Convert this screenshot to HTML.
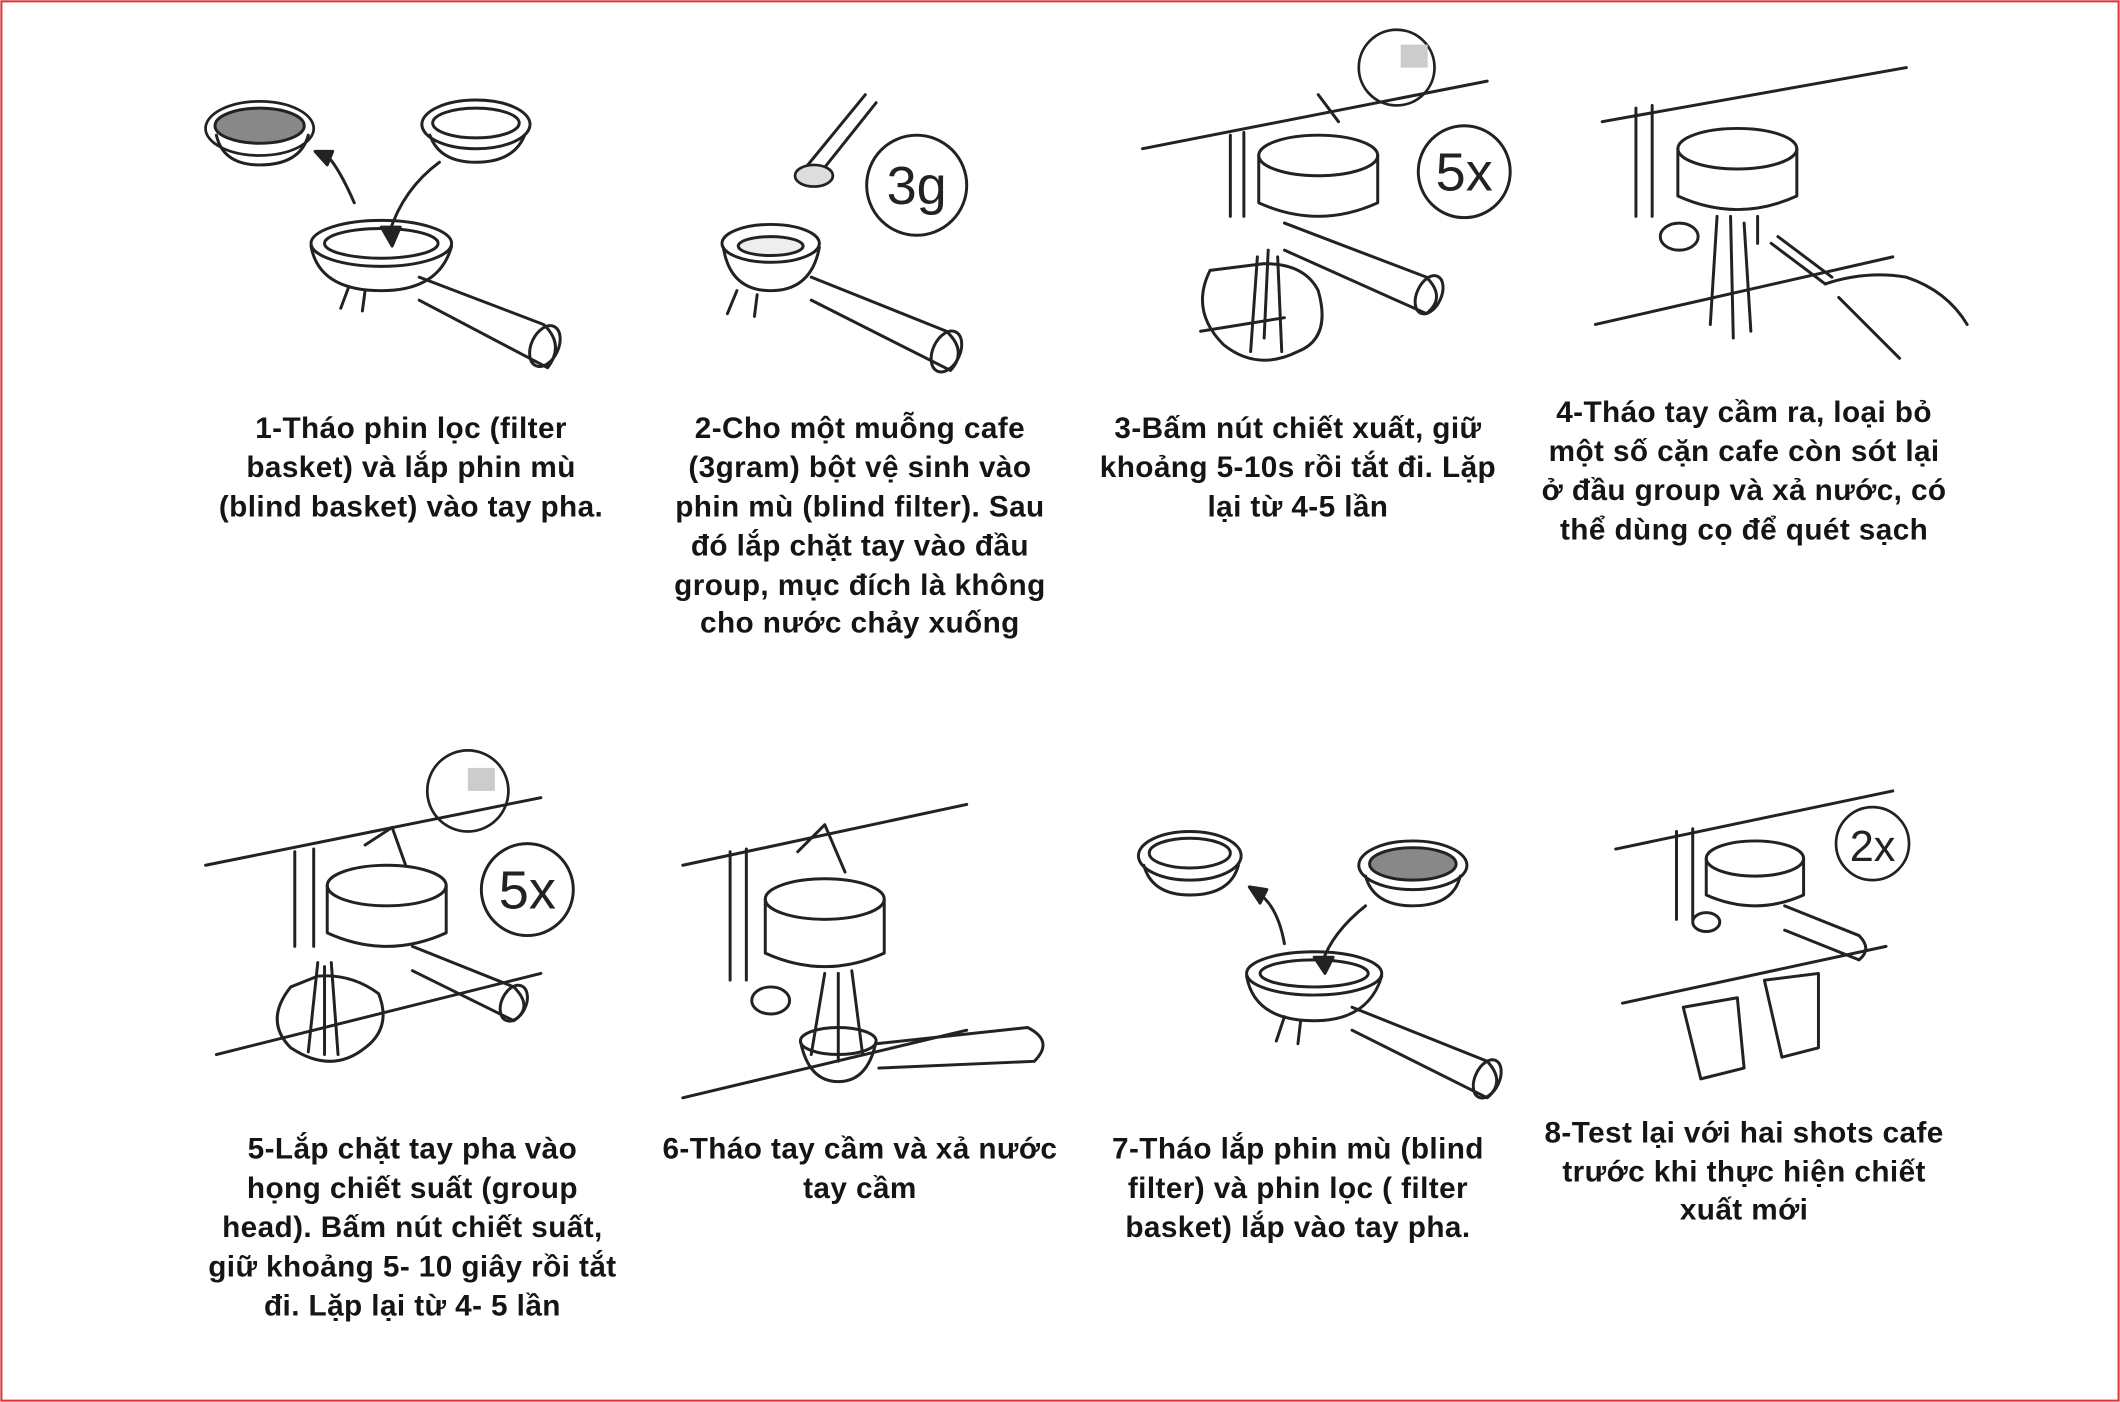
<!DOCTYPE html>
<html><head><meta charset="utf-8"><style>
html,body{margin:0;padding:0;background:#fff}
svg{display:block}
text{font-family:"Liberation Sans","DejaVu Sans",sans-serif;font-weight:bold;fill:#151515}
.c{font-size:22px;letter-spacing:0.3px;text-anchor:middle}
.l{fill:none;stroke:#222;stroke-width:2.2;stroke-linecap:round;stroke-linejoin:round}
.g{fill:#bbb;stroke:#222;stroke-width:2}
.n{font-family:"Liberation Sans",sans-serif;font-weight:normal;font-size:40px;text-anchor:middle;fill:#222}
</style></head><body>
<svg width="2120" height="1402" viewBox="0 0 1568 1037" xmlns="http://www.w3.org/2000/svg">
<rect x="1" y="1" width="1566" height="1035" fill="#fff" stroke="#d33" stroke-width="1.5"/>

<!-- Panel 1 -->
<g class="l">
<ellipse cx="192" cy="95" rx="40" ry="20" class="g" style="fill:#fff"/><ellipse cx="192" cy="93" rx="33" ry="13" fill="#888"/>
<path d="M160 100 Q165 122 192 122 Q222 122 228 100"/>
<ellipse cx="352" cy="92" rx="40" ry="18"/><ellipse cx="352" cy="91" rx="32" ry="11"/>
<path d="M318 100 Q325 120 352 120 Q380 120 388 100"/>
<ellipse cx="282" cy="180" rx="52" ry="17"/><ellipse cx="282" cy="180" rx="42" ry="11"/>
<path d="M230 182 Q236 215 282 215 Q325 215 334 182"/>
<path d="M258 212 L252 228 M270 215 L268 230"/>
<path d="M310 205 L402 240 Q418 255 405 272 L310 222"/>
<ellipse cx="403" cy="256" rx="10" ry="16" transform="rotate(25 403 256)"/>
<path d="M262 150 Q248 118 238 112" /><path d="M233 112 L242 122 L246 112 Z" fill="#222"/>
<path d="M325 120 Q298 140 288 172"/><path d="M282 168 L290 182 L296 168 Z" fill="#222"/>
</g>

<!-- Panel 2 -->
<g class="l">
<path d="M595 125 L640 70 M605 130 L648 76"/>
<ellipse cx="602" cy="130" rx="14" ry="8" class="g" style="fill:#ddd"/>
<ellipse cx="570" cy="180" rx="36" ry="14"/><ellipse cx="570" cy="182" rx="24" ry="7" fill="#eee"/>
<path d="M535 183 Q540 215 570 215 Q600 215 606 183"/>
<path d="M545 215 L538 232 M560 218 L558 234"/>
<path d="M600 205 L700 245 Q716 260 703 274 L600 222"/>
<ellipse cx="700" cy="260" rx="10" ry="16" transform="rotate(25 700 260)"/>
</g>
<circle cx="678" cy="137" r="37" fill="none" stroke="#222" stroke-width="2.2"/>
<text class="n" x="678" y="151">3g</text>

<!-- Panel 3 -->
<g class="l">
<path d="M845 110 L1100 60"/>
<path d="M910 100 L910 160 M920 98 L920 160 M975 70 L990 90"/>
<ellipse cx="975" cy="115" rx="44" ry="15"/><path d="M931 115 L931 150 Q975 170 1019 150 L1019 115"/>
<path d="M950 165 L1055 205 Q1070 220 1055 232 L950 185"/>
<ellipse cx="1057" cy="218" rx="9" ry="15" transform="rotate(25 1057 218)"/>
<path d="M895 200 Q880 230 905 255 Q930 275 960 260 Q985 250 975 215 Q965 195 935 195 Z"/>
<path d="M930 190 L925 260 M945 190 L948 260 M938 185 L935 250"/>
<path d="M888 245 L950 235"/>
</g>
<circle cx="1033" cy="50" r="28" fill="none" stroke="#222" stroke-width="2"/>
<path d="M1036 33 L1056 33 L1056 50 L1036 50 Z" fill="#ccc"/>
<circle cx="1083" cy="127" r="34" fill="none" stroke="#222" stroke-width="2.2"/>
<text class="n" x="1083" y="141">5x</text>

<!-- Panel 4 -->
<g class="l">
<path d="M1185 90 L1410 50 M1180 240 L1400 190"/>
<path d="M1210 80 L1210 160 M1222 78 L1222 160"/>
<ellipse cx="1285" cy="110" rx="44" ry="15"/><path d="M1241 110 L1241 145 Q1285 165 1329 145 L1329 110"/>
<ellipse cx="1242" cy="175" rx="14" ry="10"/>
<path d="M1300 160 L1300 180 M1310 180 L1350 210 M1315 175 L1355 205"/>
<path d="M1270 160 L1265 240 M1280 160 L1282 250 M1290 165 L1295 245"/>
<path d="M1350 210 Q1380 200 1410 205 Q1440 215 1455 240 M1360 220 Q1380 240 1405 265"/>
</g>

<!-- Panel 5 -->
<g class="l">
<path d="M152 640 L400 590 M160 780 L400 720"/>
<path d="M218 630 L218 700 M232 628 L232 700"/>
<ellipse cx="286" cy="655" rx="44" ry="15"/><path d="M242 655 L242 690 Q286 710 330 690 L330 655"/>
<path d="M270 625 L290 612 L300 640"/>
<path d="M305 700 L380 730 Q395 745 380 755 L305 718"/>
<ellipse cx="380" cy="742" rx="9" ry="14" transform="rotate(25 380 742)"/>
<path d="M215 730 Q195 755 215 775 Q245 795 270 775 Q290 760 280 735 Q260 720 235 722 Z"/>
<path d="M235 712 L228 778 M245 712 L250 780 M240 715 L240 780"/>
</g>
<circle cx="346" cy="585" r="30" fill="none" stroke="#222" stroke-width="2"/>
<rect x="346" y="568" width="20" height="17" fill="#ccc"/>
<circle cx="390" cy="658" r="34" fill="none" stroke="#222" stroke-width="2.2"/>
<text class="n" x="390" y="672">5x</text>

<!-- Panel 6 -->
<g class="l">
<path d="M505 640 L715 595 M505 812 L715 762"/>
<path d="M540 630 L540 725 M552 628 L552 725"/>
<ellipse cx="610" cy="665" rx="44" ry="15"/><path d="M566 665 L566 705 Q610 725 654 705 L654 665"/>
<path d="M590 630 L610 610 L625 645"/>
<ellipse cx="570" cy="740" rx="14" ry="10"/>
<ellipse cx="620" cy="770" rx="28" ry="10"/><path d="M592 770 Q598 800 620 800 Q642 800 648 770"/>
<path d="M648 772 L760 760 Q780 770 765 785 L650 790"/>
<path d="M610 720 L600 780 M620 720 L620 785 M630 718 L638 780"/>
</g>

<!-- Panel 7 -->
<g class="l">
<ellipse cx="880" cy="633" rx="38" ry="18"/><ellipse cx="880" cy="631" rx="30" ry="11"/>
<path d="M846 640 Q852 662 880 662 Q910 662 916 640"/>
<ellipse cx="1045" cy="640" rx="40" ry="18"/><ellipse cx="1045" cy="639" rx="32" ry="12" fill="#888"/>
<path d="M1010 648 Q1016 670 1045 670 Q1075 670 1080 648"/>
<ellipse cx="972" cy="720" rx="50" ry="16"/><ellipse cx="972" cy="720" rx="40" ry="10"/>
<path d="M922 722 Q928 755 972 755 Q1012 755 1022 722"/>
<path d="M950 752 L944 770 M962 755 L960 772"/>
<path d="M1000 745 L1100 785 Q1114 800 1100 812 L1000 762"/>
<ellipse cx="1100" cy="798" rx="9" ry="15" transform="rotate(25 1100 798)"/>
<path d="M950 698 Q945 670 930 660"/><path d="M924 656 L932 668 L937 658 Z" fill="#222"/>
<path d="M1010 670 Q985 690 978 712"/><path d="M972 708 L980 720 L986 708 Z" fill="#222"/>
</g>

<!-- Panel 8 -->
<g class="l">
<path d="M1195 628 L1400 585 M1200 742 L1395 700"/>
<path d="M1240 615 L1240 680 M1252 613 L1252 680"/>
<ellipse cx="1298" cy="635" rx="36" ry="13"/><path d="M1262 635 L1262 662 Q1298 678 1334 662 L1334 635"/>
<ellipse cx="1262" cy="682" rx="10" ry="7"/>
<path d="M1320 670 L1375 692 Q1385 702 1375 710 L1320 688"/>
<path d="M1245 745 L1285 738 L1290 790 L1258 798 Z"/>
<path d="M1305 725 L1345 720 L1345 775 L1318 782 Z"/>
</g>
<circle cx="1385" cy="624" r="27" fill="none" stroke="#222" stroke-width="2"/>
<text class="n" x="1385" y="637" style="font-size:32px">2x</text>

<!-- Captions -->
<text class="c" x="304" y="324">1-Tháo phin lọc (filter</text>
<text class="c" x="304" y="353">basket) và lắp phin mù</text>
<text class="c" x="304" y="382">(blind basket) vào tay pha.</text>

<text class="c" x="636" y="324">2-Cho một muỗng cafe</text>
<text class="c" x="636" y="353">(3gram) bột vệ sinh vào</text>
<text class="c" x="636" y="382">phin mù (blind filter). Sau</text>
<text class="c" x="636" y="411">đó lắp chặt tay vào đầu</text>
<text class="c" x="636" y="440">group, mục đích là không</text>
<text class="c" x="636" y="468">cho nước chảy xuống</text>

<text class="c" x="960" y="324">3-Bấm nút chiết xuất, giữ</text>
<text class="c" x="960" y="353">khoảng 5-10s rồi tắt đi. Lặp</text>
<text class="c" x="960" y="382">lại từ 4-5 lần</text>

<text class="c" x="1290" y="312">4-Tháo tay cầm ra, loại bỏ</text>
<text class="c" x="1290" y="341">một số cặn cafe còn sót lại</text>
<text class="c" x="1290" y="370">ở đầu group và xả nước, có</text>
<text class="c" x="1290" y="399">thể dùng cọ để quét sạch</text>

<text class="c" x="305" y="857">5-Lắp chặt tay pha vào</text>
<text class="c" x="305" y="886">họng chiết suất (group</text>
<text class="c" x="305" y="915">head). Bấm nút chiết suất,</text>
<text class="c" x="305" y="944">giữ khoảng 5- 10 giây rồi tắt</text>
<text class="c" x="305" y="973">đi. Lặp lại từ 4- 5 lần</text>

<text class="c" x="636" y="857">6-Tháo tay cầm và xả nước</text>
<text class="c" x="636" y="886">tay cầm</text>

<text class="c" x="960" y="857">7-Tháo lắp phin mù (blind</text>
<text class="c" x="960" y="886">filter) và phin lọc ( filter</text>
<text class="c" x="960" y="915">basket) lắp vào tay pha.</text>

<text class="c" x="1290" y="845">8-Test lại với hai shots cafe</text>
<text class="c" x="1290" y="874">trước khi thực hiện chiết</text>
<text class="c" x="1290" y="902">xuất mới</text>
</svg>
</body></html>
